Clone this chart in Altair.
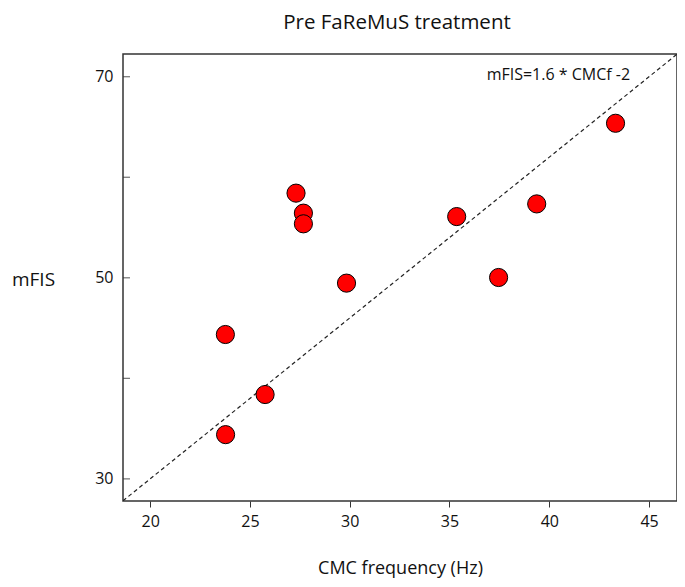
import altair as alt
import pandas as pd

# CMC frequency (Hz) and mFIS for each subject
cmc_freq = [23.78, 23.77, 25.76, 27.31, 27.68, 27.68, 29.84, 35.36, 37.46, 39.37, 43.32]
mfis = [34.4, 44.36, 38.39, 58.42, 56.43, 55.37, 49.47, 56.09, 50.03, 57.35, 65.37]

# regression line given on the plot: mFIS = 1.6 * CMCf - 2
fit_slope = 1.6
fit_intercept = -2.0
x_domain = [18.64, 46.4]
y_domain = [27.8, 72.26]

x_ticks = [20, 25, 30, 35, 40, 45]
y_ticks = [30, 40, 50, 60, 70]
y_labels = [30, 50, 70]

font = "Open Sans"

points = pd.DataFrame({"cmc": cmc_freq, "mfis": mfis})
fit = pd.DataFrame({
    "cmc": x_domain,
    "mfis": [fit_slope * v + fit_intercept for v in x_domain],
})
ticks = pd.DataFrame({"mfis": y_ticks})
note = pd.DataFrame({"cmc": [44.05], "mfis": [70.17], "label": ["mFIS=1.6 * CMCf -2"]})

x_scale = alt.Scale(domain=x_domain, nice=False, zero=False)
y_scale = alt.Scale(domain=y_domain, nice=False, zero=False)

x_enc = alt.X("cmc:Q", scale=x_scale, axis=alt.Axis(
    values=x_ticks, title="CMC frequency (Hz)", grid=False, domain=False,
    tickSize=6, tickColor="#333", labelPadding=6, labelFontSize=16,
    labelColor="#111", titleFontSize=18, titleFontWeight="normal",
    titleColor="#111", titleY=72, titleBaseline="alphabetic",
))
y_enc = alt.Y("mfis:Q", scale=y_scale, axis=alt.Axis(
    values=y_labels, title="mFIS", grid=False, domain=False, ticks=False,
    labelPadding=10, labelFontSize=16, labelColor="#111",
    titleFontSize=19, titleFontWeight="normal", titleColor="#111",
    titleAngle=0, titleAlign="center", titleBaseline="middle",
    titleX=-90, titleY=225,
))

fit_line = alt.Chart(fit).mark_line(
    color="#222", strokeWidth=1.2, strokeDash=[4, 3], clip=True
).encode(x=x_enc, y=y_enc)

y_tick_marks = alt.Chart(ticks).mark_tick(
    color="#333", size=7, thickness=1.2, orient="horizontal"
).encode(y=alt.Y("mfis:Q", scale=y_scale), x=alt.value(3.5))

dots = alt.Chart(points).mark_circle(
    size=330, color="#ff0000", opacity=1, stroke="#000", strokeWidth=1
).encode(x="cmc:Q", y="mfis:Q")

label = alt.Chart(note).mark_text(
    align="right", baseline="middle", fontSize=16, font=font, color="#111"
).encode(x="cmc:Q", y="mfis:Q", text="label:N")

chart = alt.layer(fit_line, y_tick_marks, dots, label).properties(
    width=554,
    height=447,
    autosize=alt.AutoSizeParams(type="none"),
    padding={"left": 115, "top": 46, "right": 0, "bottom": 78},
    title=alt.TitleParams(
        "Pre FaReMuS treatment", fontSize=20.5, fontWeight="normal",
        font=font, color="#111", anchor="middle", frame="group",
        offset=21, dx=-3,
    ),
).configure(font=font).configure_axis(
    labelFont=font, titleFont=font
).configure_view(
    stroke="#333", strokeWidth=1.5
)

chart.save("out.html", embed_options={"renderer": "svg", "actions": False})
